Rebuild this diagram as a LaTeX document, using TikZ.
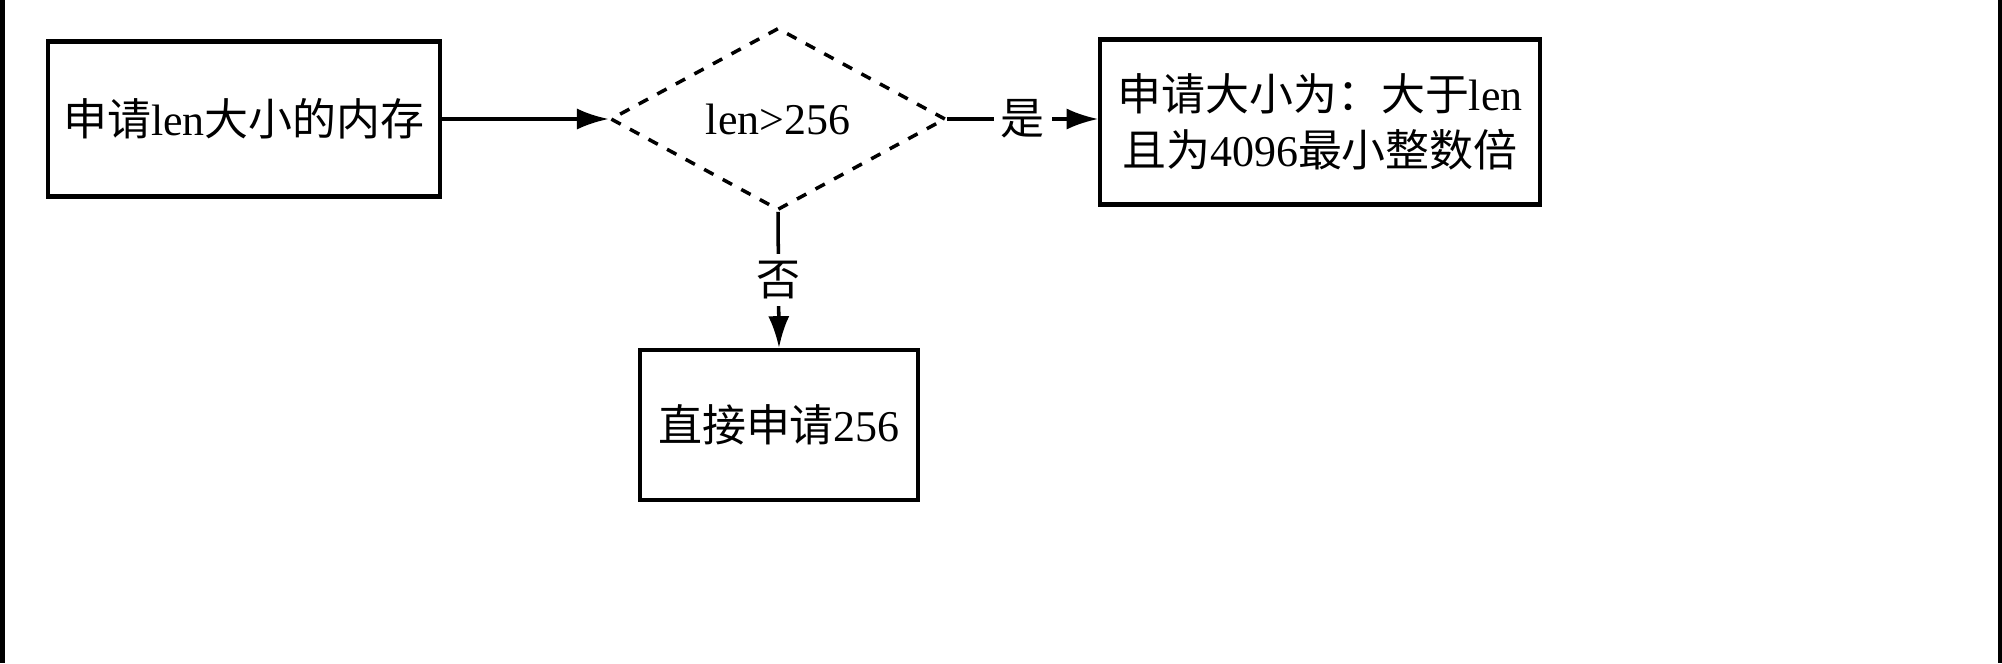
\documentclass[tikz,border=0pt]{standalone}
\usepackage{fontspec}
\setmainfont{Liberation Serif}
\newfontfamily\cjk{Noto Sans CJK SC}
\usetikzlibrary{arrows.meta,shapes.geometric}
\begin{document}
\begin{tikzpicture}[x=0.01cm,y=-0.01cm,
  box/.style={draw,line width=1.2pt,inner sep=0pt},
  lab/.style={font=\fontsize{12.5pt}{16pt}\selectfont,align=center},
  arr/.style={line width=1pt,-{Latex[length=9pt,width=6pt]}}]
\useasboundingbox (0,0) rectangle (2002,663);
\draw[line width=2pt] (1,0) -- (1,663) (2001,0) -- (2001,663);
\node[box,minimum width=3.92cm,minimum height=1.55cm,lab] (a) at (244,119) {{\cjk 申请}len{\cjk 大小的内存}};
\node[draw,dashed,line width=1pt,diamond,aspect=1.85,minimum width=3.35cm,minimum height=1.82cm,inner sep=0pt,lab] (d) at (778,119) {len>256};
\node[box,minimum width=4.39cm,minimum height=1.65cm,lab] (r) at (1320,122) {{\cjk 申请大小为：大于}len\\{\cjk 且为}4096{\cjk 最小整数倍}};
\node[box,minimum width=2.78cm,minimum height=1.5cm,lab] (b) at (779,425) {{\cjk 直接申请}256};
\draw[arr] (a.east) -- (d.west);
\draw[arr] (d.east) -- node[fill=white,lab,inner sep=2pt]{\cjk 是} (r.west |- d.east);
\draw[arr] (d.south) -- node[fill=white,lab,inner sep=2pt]{\cjk 否} (b.north);
\end{tikzpicture}
\end{document}
